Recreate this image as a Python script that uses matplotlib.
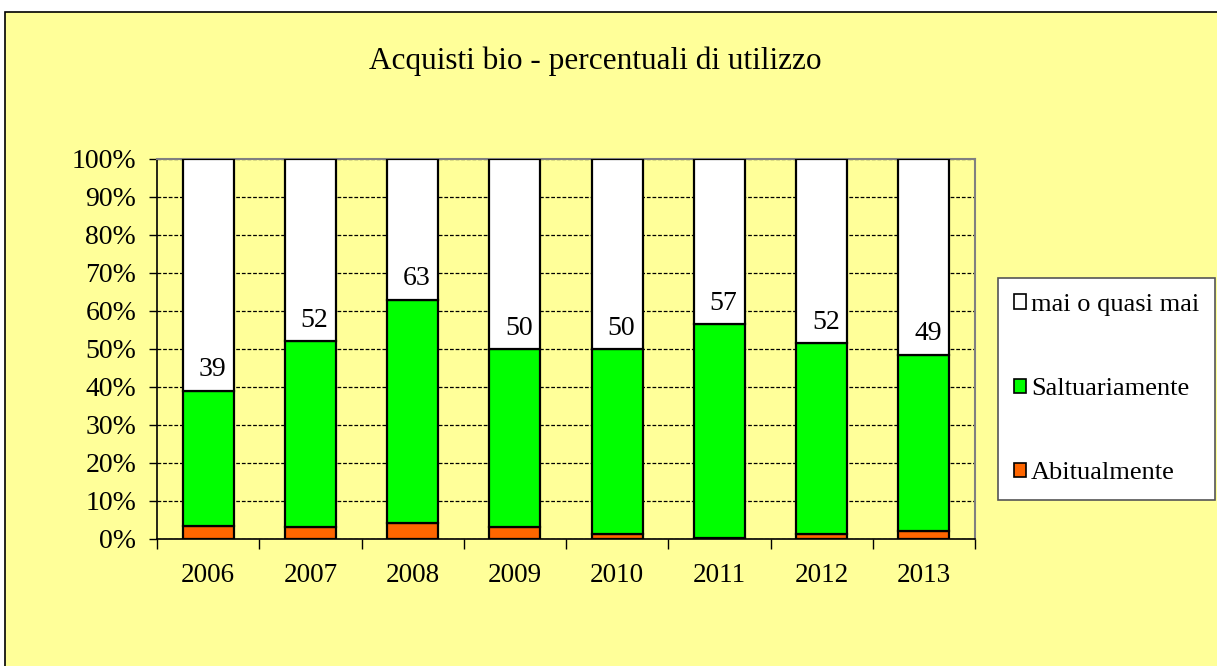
import numpy as np
import matplotlib
matplotlib.use('Agg')
import matplotlib.pyplot as plt
from matplotlib.patches import Rectangle, Patch

# data (percent)
years = ['2006', '2007', '2008', '2009', '2010', '2011', '2012', '2013']
abitualmente = [3.3, 3.2, 4.2, 3.2, 1.2, 0.3, 1.2, 2.2]
saltuariamente = [35.7, 48.8, 58.8, 46.8, 48.8, 56.2, 50.3, 46.3]
mai = [61.0, 48.0, 37.0, 50.0, 50.0, 43.5, 48.5, 51.5]
labels = ['39', '52', '63', '50', '50', '57', '52', '49']

yellow = '#FFFF99'
plt.rcParams['font.family'] = ['Liberation Serif', 'DejaVu Serif']

fig = plt.figure(figsize=(12.17, 6.66), dpi=100, facecolor='white')
bg = Rectangle((5 / 1217, -0.01), 1.1, 1 - 12 / 666 + 0.01,
               transform=fig.transFigure, facecolor=yellow,
               edgecolor='black', linewidth=1.2, zorder=-10)
fig.patches.append(bg)

ax = fig.add_axes([157 / 1217, 1 - 539 / 666, 818 / 1217, 380 / 666])
ax.set_facecolor(yellow)

x = np.arange(len(years))
bottom2 = np.array(abitualmente)
bottom3 = bottom2 + np.array(saltuariamente)
ax.bar(x, abitualmente, 0.5, color='#FF6600', edgecolor='black', linewidth=1.6, zorder=3)
ax.bar(x, saltuariamente, 0.5, bottom=bottom2, color='#00FF00', edgecolor='black',
       linewidth=1.6, zorder=3)
ax.bar(x, mai, 0.5, bottom=bottom3, color='white', edgecolor='black', linewidth=1.6,
       zorder=3)

for xi, top, lab in zip(x, bottom3, labels):
    ax.annotate(lab, (xi + 0.04, top), xytext=(0, 6), textcoords='offset points',
                ha='center', va='bottom', fontsize=20, zorder=4)

ax.set_xlim(-0.5, len(years) - 0.5)
ax.set_ylim(0, 100)
ax.set_yticks(np.arange(0, 101, 10))
ax.set_yticklabels([f'{v}%' for v in range(0, 101, 10)], fontsize=20)
ax.yaxis.grid(True, color='black', linestyle=(0, (3, 1.5)), linewidth=0.9)
ax.set_axisbelow(True)

ax.set_xticks(np.arange(-0.5, len(years), 1))
ax.set_xticklabels([])
ax.set_xticks(x, minor=True)
ax.set_xticklabels(years, minor=True, fontsize=19.5)
ax.tick_params(axis='x', which='major', length=7, direction='out', width=1)
ax.tick_params(axis='x', which='minor', length=0, pad=17)
ax.tick_params(axis='y', length=6, direction='out', width=1, pad=9)

for s in ['top', 'right']:
    ax.spines[s].set_color('#808080')
    ax.spines[s].set_linewidth(1.5)
for s in ['left', 'bottom']:
    ax.spines[s].set_color('black')
    ax.spines[s].set_linewidth(1.2)

fig.text(595 / 1217, 1 - 61 / 666, 'Acquisti bio - percentuali di utilizzo',
         ha='center', va='center', fontsize=22.5)

handles = [Patch(facecolor='white', edgecolor='black', linewidth=1.2),
           Patch(facecolor='#00FF00', edgecolor='black', linewidth=1.2),
           Patch(facecolor='#FF6600', edgecolor='black', linewidth=1.2)]
leg = fig.legend(handles, ['mai o quasi mai', 'Saltuariamente', 'Abitualmente'],
                 loc='center left', bbox_to_anchor=(998 / 1217, 1 - 389 / 666),
                 fontsize=19, frameon=True, fancybox=False, labelspacing=2.35,
                 handlelength=0.45, handleheight=0.45, handletextpad=0.2,
                 borderpad=0.6, borderaxespad=0, framealpha=1, facecolor='white')
leg.get_frame().set_edgecolor('#555555')
leg.get_frame().set_linewidth(1.2)

fig.savefig('out.png', dpi=100, facecolor='white')
